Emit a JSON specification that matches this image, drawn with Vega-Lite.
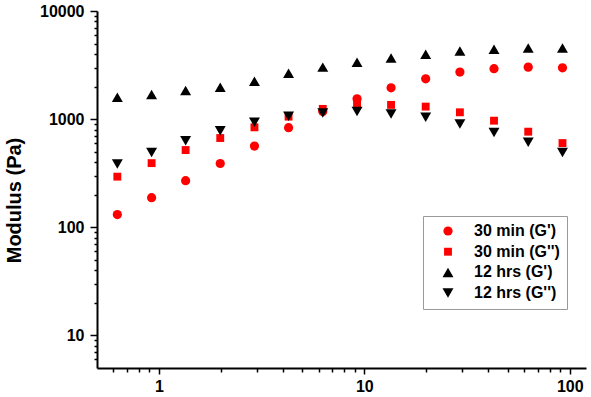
{
  "$schema": "https://vega.github.io/schema/vega-lite/v6.json",
  "width": 489,
  "height": 357,
  "autosize": {"type": "none"},
  "padding": {"left": 97, "top": 11, "right": 5, "bottom": 29},
  "background": "white",
  "config": {
    "font": "Liberation Sans",
    "view": {"stroke": null},
    "axis": {"grid": false, "domainColor": "black", "domainWidth": 2, "tickColor": "black", "tickWidth": 1.5, "labelColor": "black", "labelFont": "Liberation Sans", "labelFontWeight": "bold", "labelFontSize": 16},
    "legend": {
      "orient": "none", "legendX": 326, "legendY": 205, "title": null,
      "strokeColor": "#999999", "padding": 7, "fillColor": "white",
      "labelFont": "Liberation Sans", "labelFontSize": 16, "labelFontWeight": "bold", "labelColor": "black",
      "rowPadding": 4.7, "symbolOffset": 10, "labelOffset": 18
    }
  },
  "data": {
    "values": [
      {"f": 0.628, "G": 131, "s": "30 min (G')"},
      {"f": 0.922, "G": 188, "s": "30 min (G')"},
      {"f": 1.35, "G": 270, "s": "30 min (G')"},
      {"f": 1.99, "G": 389, "s": "30 min (G')"},
      {"f": 2.92, "G": 564, "s": "30 min (G')"},
      {"f": 4.28, "G": 834, "s": "30 min (G')"},
      {"f": 6.28, "G": 1180, "s": "30 min (G')"},
      {"f": 9.22, "G": 1541, "s": "30 min (G')"},
      {"f": 13.5, "G": 1950, "s": "30 min (G')"},
      {"f": 19.9, "G": 2362, "s": "30 min (G')"},
      {"f": 29.2, "G": 2723, "s": "30 min (G')"},
      {"f": 42.8, "G": 2927, "s": "30 min (G')"},
      {"f": 62.8, "G": 3027, "s": "30 min (G')"},
      {"f": 92.2, "G": 2985, "s": "30 min (G')"},
      {"f": 0.628, "G": 294, "s": "30 min (G'')"},
      {"f": 0.922, "G": 392, "s": "30 min (G'')"},
      {"f": 1.35, "G": 518, "s": "30 min (G'')"},
      {"f": 1.99, "G": 669, "s": "30 min (G'')"},
      {"f": 2.92, "G": 840, "s": "30 min (G'')"},
      {"f": 4.28, "G": 1055, "s": "30 min (G'')"},
      {"f": 6.28, "G": 1244, "s": "30 min (G'')"},
      {"f": 9.22, "G": 1384, "s": "30 min (G'')"},
      {"f": 13.5, "G": 1355, "s": "30 min (G'')"},
      {"f": 19.9, "G": 1306, "s": "30 min (G'')"},
      {"f": 29.2, "G": 1157, "s": "30 min (G'')"},
      {"f": 42.8, "G": 968, "s": "30 min (G'')"},
      {"f": 62.8, "G": 766, "s": "30 min (G'')"},
      {"f": 92.2, "G": 601, "s": "30 min (G'')"},
      {"f": 0.628, "G": 1592, "s": "12 hrs (G')"},
      {"f": 0.922, "G": 1688, "s": "12 hrs (G')"},
      {"f": 1.35, "G": 1840, "s": "12 hrs (G')"},
      {"f": 1.99, "G": 1972, "s": "12 hrs (G')"},
      {"f": 2.92, "G": 2243, "s": "12 hrs (G')"},
      {"f": 4.28, "G": 2663, "s": "12 hrs (G')"},
      {"f": 6.28, "G": 3027, "s": "12 hrs (G')"},
      {"f": 9.22, "G": 3366, "s": "12 hrs (G')"},
      {"f": 13.5, "G": 3670, "s": "12 hrs (G')"},
      {"f": 19.9, "G": 3973, "s": "12 hrs (G')"},
      {"f": 29.2, "G": 4267, "s": "12 hrs (G')"},
      {"f": 42.8, "G": 4420, "s": "12 hrs (G')"},
      {"f": 62.8, "G": 4550, "s": "12 hrs (G')"},
      {"f": 92.2, "G": 4550, "s": "12 hrs (G')"},
      {"f": 0.628, "G": 384, "s": "12 hrs (G'')"},
      {"f": 0.922, "G": 492, "s": "12 hrs (G'')"},
      {"f": 1.35, "G": 631, "s": "12 hrs (G'')"},
      {"f": 1.99, "G": 781, "s": "12 hrs (G'')"},
      {"f": 2.92, "G": 934, "s": "12 hrs (G'')"},
      {"f": 4.28, "G": 1062, "s": "12 hrs (G'')"},
      {"f": 6.28, "G": 1141, "s": "12 hrs (G'')"},
      {"f": 9.22, "G": 1174, "s": "12 hrs (G'')"},
      {"f": 13.5, "G": 1118, "s": "12 hrs (G'')"},
      {"f": 19.9, "G": 1040, "s": "12 hrs (G'')"},
      {"f": 29.2, "G": 902, "s": "12 hrs (G'')"},
      {"f": 42.8, "G": 754, "s": "12 hrs (G'')"},
      {"f": 62.8, "G": 610, "s": "12 hrs (G'')"},
      {"f": 92.2, "G": 492, "s": "12 hrs (G'')"}
    ]
  },
  "mark": {"type": "point", "filled": true, "opacity": 1},
  "encoding": {
    "x": {
      "field": "f", "type": "quantitative",
      "scale": {"type": "log", "domain": [0.5, 120], "nice": false},
      "axis": {
        "title": null,
        "values": [0.6, 0.7, 0.8, 0.9, 1, 2, 3, 4, 5, 6, 7, 8, 9, 10, 20, 30, 40, 50, 60, 70, 80, 90, 100],
        "labelExpr": "(datum.value == 1 || datum.value == 10 || datum.value == 100) ? format(datum.value, 'd') : ''",
        "tickSize": {"condition": {"test": "datum.value == 1 || datum.value == 10 || datum.value == 100", "value": 6}, "value": 4},
        "labelPadding": 4,
        "labelFlush": false,
        "labelOverlap": false
      }
    },
    "y": {
      "field": "G", "type": "quantitative",
      "scale": {"type": "log", "domain": [5, 10000], "nice": false},
      "axis": {
        "title": "Modulus (Pa)",
        "titleFont": "Liberation Sans",
        "titleFontSize": 20,
        "titleFontWeight": "bold",
        "titleColor": "black",
        "titleX": -83,
        "titleY": 189,
        "titleAlign": "center",
        "titleBaseline": "middle",
        "titleAngle": -90,
        "values": [6, 7, 8, 9, 10, 20, 30, 40, 50, 60, 70, 80, 90, 100, 200, 300, 400, 500, 600, 700, 800, 900, 1000, 2000, 3000, 4000, 5000, 6000, 7000, 8000, 9000, 10000],
        "labelExpr": "(datum.value == 10 || datum.value == 100 || datum.value == 1000 || datum.value == 10000) ? format(datum.value, 'd') : ''",
        "tickSize": {"condition": {"test": "datum.value == 10 || datum.value == 100 || datum.value == 1000 || datum.value == 10000", "value": 7}, "value": 3},
        "labelPadding": 6,
        "labelFlush": false,
        "labelOverlap": false
      }
    },
    "color": {
      "field": "s", "type": "nominal",
      "scale": {"domain": ["30 min (G')", "30 min (G'')", "12 hrs (G')", "12 hrs (G'')"], "range": ["#ff0000", "#ff0000", "#000000", "#000000"]}
    },
    "shape": {
      "field": "s", "type": "nominal",
      "scale": {"domain": ["30 min (G')", "30 min (G'')", "12 hrs (G')", "12 hrs (G'')"], "range": ["circle", "square", "triangle-up", "triangle-down"]}
    },
    "size": {
      "field": "s", "type": "ordinal",
      "scale": {"type": "ordinal", "domain": ["30 min (G')", "30 min (G'')", "12 hrs (G')", "12 hrs (G'')"], "range": [85, 62, 120, 120]}
    }
  }
}
